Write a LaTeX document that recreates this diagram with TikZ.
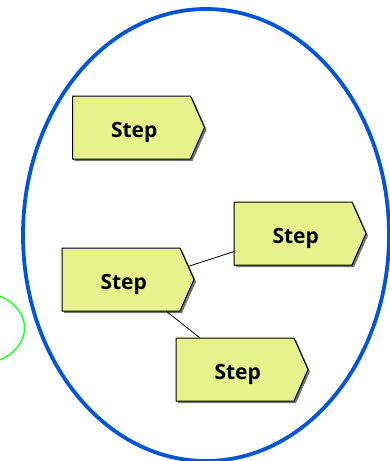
\documentclass[tikz,border=0pt]{standalone}
\usepackage{fontspec}
\setmainfont{Open Sans}
\usetikzlibrary{shapes.symbols,shadows}
\definecolor{stepfill}{HTML}{E6F28C}
\definecolor{ringblue}{HTML}{0055D4}
\definecolor{ringgreen}{HTML}{22FF22}
\newcommand{\steplabel}{\hspace*{5.4pt}\raisebox{-9.5pt}[0pt][0pt]{Step}}
\tikzset{
  stepbox/.style={draw=black,line width=1pt,fill=stepfill,signal,signal to=east,
    signal pointer angle=132,minimum width=132pt,minimum height=63pt,inner sep=0pt,outer sep=0pt,
    font=\bfseries\fontsize{21}{25}\selectfont,
    general shadow={fill=black!55,shadow xshift=2pt,shadow yshift=-2pt}},
  link/.style={draw=black,line width=0.8pt},
}
\begin{document}
\begin{tikzpicture}[x=1pt,y=-1pt]
\useasboundingbox (0,0) rectangle (390,461);
\clip (0,0) rectangle (390,461);
\draw[ringblue,line width=3.8pt] (206,235) ellipse [x radius=183,y radius=226];
\draw[ringgreen,line width=1.4pt] (-25,328) ellipse [x radius=49.5,y radius=37];
\node[stepbox] (a) at (131.5,127.5) {\steplabel};
\node[stepbox] (b) at (293,233.5) {\steplabel};
\node[stepbox] (c) at (121,279.5) {\steplabel};
\node[stepbox] (d) at (235,369.5) {\steplabel};
\draw[link] (c.11.4) -- (b.197.4);
\draw[link] (c.-35.6) -- (d.138.7);
\end{tikzpicture}
\end{document}
